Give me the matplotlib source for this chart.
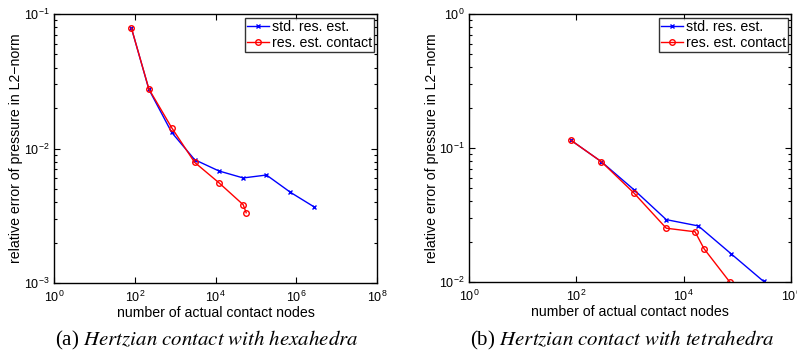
import matplotlib
matplotlib.use("Agg")
import matplotlib.pyplot as plt
from matplotlib.ticker import LogLocator, NullLocator, NullFormatter, LogFormatterSciNotation

plt.rcParams['font.family'] = ['Liberation Sans', 'DejaVu Sans']
plt.rcParams['mathtext.fontset'] = 'custom'
plt.rcParams['mathtext.rm'] = 'Liberation Sans'
plt.rcParams['mathtext.it'] = 'Liberation Sans:italic'

# (a) hexahedra
hex_std_x = [83, 224, 818, 3040, 12100, 48500, 183000, 720000, 2730000]
hex_std_y = [0.0783, 0.0275, 0.0132, 0.00826, 0.00681, 0.00604, 0.00635, 0.00472, 0.00369]
hex_con_x = [83, 224, 818, 3040, 12100, 48500, 57500]
hex_con_y = [0.0783, 0.0277, 0.0143, 0.00789, 0.00557, 0.00382, 0.00333]
hex_xticks = [1e0, 1e2, 1e4, 1e6, 1e8]
hex_yticks = [1e-3, 1e-2, 1e-1]

# (b) tetrahedra
tet_std_x = [80, 293, 1180, 4740, 18800, 75700, 309000]
tet_std_y = [0.114, 0.079, 0.0489, 0.0292, 0.0262, 0.0163, 0.0101]
tet_con_x = [80, 293, 1180, 4740, 16300, 24000, 72300]
tet_con_y = [0.114, 0.079, 0.0462, 0.0252, 0.0237, 0.0177, 0.0100]
tet_xticks = [1e0, 1e2, 1e4, 1e6]
tet_yticks = [1e-2, 1e-1, 1e0]

legend_labels = ["std. res. est.", "res. est. contact"]
xlabel = "number of actual contact nodes"
ylabel = "relative error of pressure in L2\u2212norm"
cap_prefix = ["(a) ", "(b) "]
cap_body = ["Hertzian contact with hexahedra", "Hertzian contact with tetrahedra"]

W, H = 797, 356
fig = plt.figure(figsize=(W / 100, H / 100), dpi=100)

def px_axes(l, t, r, b):
    return fig.add_axes([l / W, 1 - b / H, (r - l) / W, (b - t) / H])

ax1 = px_axes(54, 14, 377, 283)
ax2 = px_axes(469, 14, 791, 282)

fs = 10.2
tfs = 9.0
for ax, sx, sy, cx, cy, xt, yt, ylx in [
    (ax1, hex_std_x, hex_std_y, hex_con_x, hex_con_y, hex_xticks, hex_yticks, -0.118),
    (ax2, tet_std_x, tet_std_y, tet_con_x, tet_con_y, tet_xticks, tet_yticks, -0.115),
]:
    ax.plot(sx, sy, color='#0000ff', lw=1.0, marker='x', ms=3, mew=1.0, label=legend_labels[0])
    ax.plot(cx, cy, color='#ff0000', lw=1.0, marker='o', ms=4, mfc='none', mew=1.0, label=legend_labels[1])
    ax.set_xscale('log')
    ax.set_yscale('log')
    ax.set_xlim(xt[0], xt[-1])
    ax.set_ylim(yt[0], yt[-1])
    ax.set_xticks(xt)
    ax.set_yticks(yt)
    ax.xaxis.set_major_formatter(LogFormatterSciNotation())
    ax.yaxis.set_major_formatter(LogFormatterSciNotation())
    ax.xaxis.set_minor_locator(NullLocator())
    ax.yaxis.set_minor_locator(LogLocator(base=10.0, subs=range(2, 10)))
    ax.yaxis.set_minor_formatter(NullFormatter())
    ax.tick_params(which='both', direction='in', top=True, right=True, labelsize=tfs, width=0.8)
    ax.tick_params(which='major', length=4)
    ax.tick_params(which='minor', length=2.5)
    ax.tick_params(axis='x', which='major', pad=5)
    ax.tick_params(axis='y', which='major', pad=3)
    for s in ax.spines.values():
        s.set_linewidth(1.0)
    ax.set_xlabel(xlabel, fontsize=fs)
    ax.set_ylabel(ylabel, fontsize=fs)
    ax.xaxis.set_label_coords(0.5, -0.113)
    ax.yaxis.set_label_coords(ylx, 0.5)
    ax.yaxis.label.set_va('center')
    ax.xaxis.label.set_va('center')
    leg = ax.legend(loc='upper right', bbox_to_anchor=(0.99, 0.985), borderaxespad=0,
                    fontsize=fs, frameon=True, fancybox=False, edgecolor='black',
                    handlelength=1.55, handletextpad=0.15, borderpad=0.15, labelspacing=0.15)
    leg.get_frame().set_linewidth(1.0)

cap_fs = 15
for xc, pre, body in [(207, cap_prefix[0], cap_body[0]), (622, cap_prefix[1], cap_body[1])]:
    fig.text(xc / W, 1 - 340 / H, pre + r"$\it{" + body.replace(" ", r"\ ") + "}$",
             ha='center', va='center', fontsize=cap_fs, family=['Liberation Serif'],
             math_fontfamily='stix')

fig.savefig("out.png", dpi=100)
